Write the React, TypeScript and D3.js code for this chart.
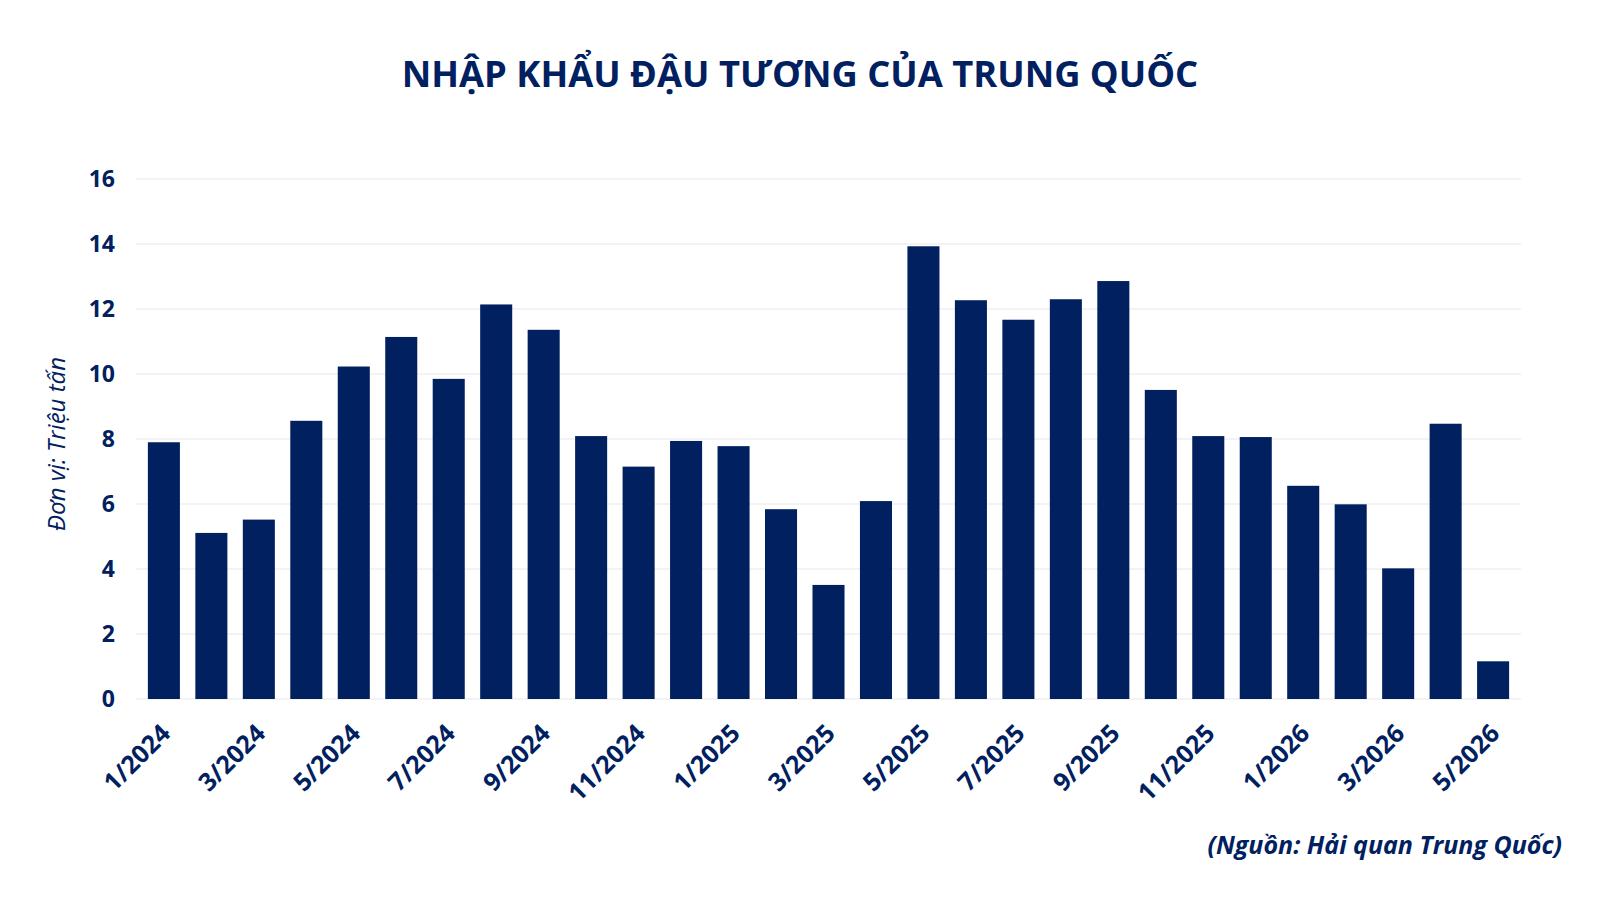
import React from "react";
import * as d3 from "d3";

const months = [
  "1/2024","2/2024","3/2024","4/2024","5/2024","6/2024","7/2024","8/2024","9/2024","10/2024","11/2024","12/2024",
  "1/2025","2/2025","3/2025","4/2025","5/2025","6/2025","7/2025","8/2025","9/2025","10/2025","11/2025","12/2025",
  "1/2026","2/2026","3/2026","4/2026","5/2026",
];
const imports = [
  7.9, 5.11, 5.52, 8.56, 10.23, 11.14, 9.85, 12.14, 11.36, 8.09, 7.15, 7.94,
  7.78, 5.84, 3.51, 6.09, 13.93, 12.27, 11.67, 12.3, 12.86, 9.51, 8.09, 8.06,
  6.56, 5.99, 4.02, 8.47, 1.16,
];
const yTicks = [0, 2, 4, 6, 8, 10, 12, 14, 16];
const title = "NHẬP KHẨU ĐẬU TƯƠNG CỦA TRUNG QUỐC";
const yTitle = "Đơn vị: Triệu tấn";
const source = "(Nguồn: Hải quan Trung Quốc)";

const NAVY = "#002060";
const FONT = "'Open Sans', 'Noto Sans', sans-serif";

export default function App() {
  const W = 1600, H = 900;
  const left = 136, right = 1521, top = 179, bottom = 699;
  const x = d3.scaleBand<string>().domain(months).range([left, right]).paddingInner(0.325).paddingOuter(0.25);
  const y = d3.scaleLinear().domain([0, 16]).range([bottom, top]);
  return (
    <svg width={W} height={H} style={{ position: "absolute", left: 0, top: 0, background: "#fff" }}>
      <rect width={W} height={H} fill="#fff" />
      <text x={800} y={87} textAnchor="middle" fontFamily={FONT} fontWeight={700} fontSize={36.3} fill={NAVY}>{title}</text>
      {yTicks.map((t) => (
        <g key={t}>
          <line x1={left} x2={right} y1={y(t)} y2={y(t)} stroke="#e8e8ec" strokeWidth={1.2} />
          <text x={115} y={y(t)} dy="0.36em" textAnchor="end" fontFamily={FONT} fontWeight={700} fontSize={23} fill={NAVY}>{t}</text>
        </g>
      ))}
      {months.map((m, i) => (
        <rect key={m} x={x(m)} y={y(imports[i])} width={x.bandwidth()} height={y(0) - y(imports[i])} fill={NAVY} />
      ))}
      {months.map((m, i) => i % 2 === 0 ? (
        <text key={m} transform={`translate(${(x(m) as number) + x.bandwidth() / 2 + 8},${y(0) + 36}) rotate(-45)`}
          textAnchor="end" fontFamily={FONT} fontWeight={700} fontSize={25} fill={NAVY}>{m}</text>
      ) : null)}
      <text transform={`translate(65,444) rotate(-90)`} textAnchor="middle" fontFamily={FONT}
        fontStyle="italic" fontSize={24} fill={NAVY}>{yTitle}</text>
      <text x={1562} y={854} textAnchor="end" fontFamily={FONT} fontWeight={700} fontStyle="italic" fontSize={25} fill={NAVY}>{source}</text>
    </svg>
  );
}
